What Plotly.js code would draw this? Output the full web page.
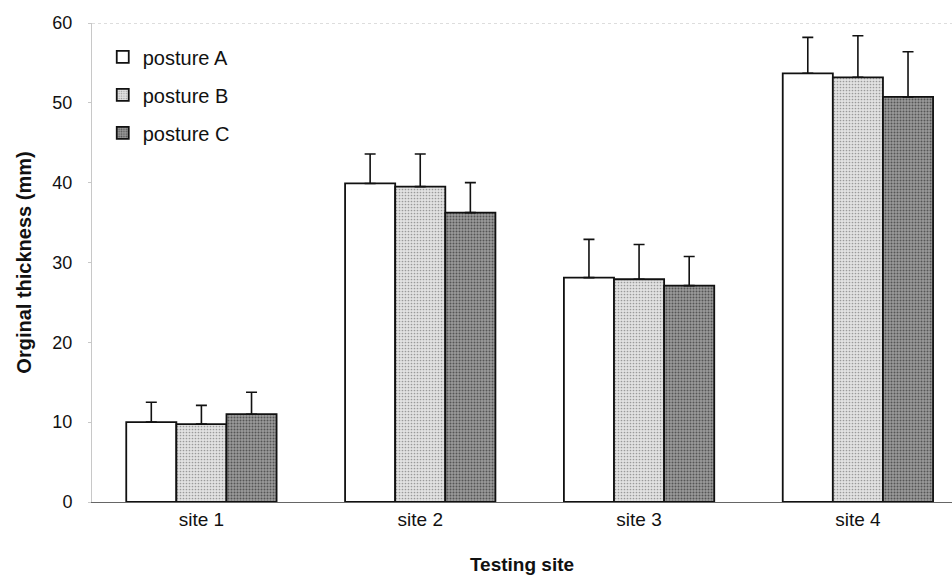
<!DOCTYPE html>
<html>
<head>
<meta charset="utf-8">
<script src="https://cdn.plot.ly/plotly-3.0.1.min.js"></script>
<style>html,body{margin:0;padding:0;background:#fff;}#chart{width:952px;height:579px;}</style>
</head>
<body>
<div id="chart"></div>
<script>
const sites = ["site 1", "site 2", "site 3", "site 4"];
const postureA = [10.0, 39.9, 28.1, 53.7];
const postureB = [9.75, 39.5, 27.9, 53.2];
const postureC = [11.0, 36.25, 27.1, 50.75];
const errA = [2.5, 3.7, 4.8, 4.5];
const errB = [2.35, 4.1, 4.35, 5.2];
const errC = [2.75, 3.75, 3.65, 5.65];
const seriesNames = ["posture A", "posture B", "posture C"];
const yTicks = [0, 10, 20, 30, 40, 50, 60];

const font = "Liberation Sans, Arial, sans-serif";
const zeros = sites.map(() => 0);

function mk(name, vals, err, marker, grp) {
  return {
    type: "bar", name: name, x: sites, y: vals, legendgroup: grp,
    marker: marker,
    error_y: {type: "data", array: err, arrayminus: zeros, symmetric: false,
      color: "#111", thickness: 1.6, width: 5.5}
  };
}

const traces = [
  mk(seriesNames[0], postureA, errA, {color: "#ffffff", line: {color: "#111", width: 1.8}}, "a"),
  mk(seriesNames[1], postureB, errB, {color: "#dedede", line: {color: "#111", width: 1.8},
     pattern: {shape: ".", bgcolor: "#e2e2e2", fgcolor: "#9a9a9a", size: 3, solidity: 0.25, fillmode: "replace"}}, "b"),
  mk(seriesNames[2], postureC, errC, {color: "#8c8c8c", line: {color: "#111", width: 1.8},
     pattern: {shape: ".", bgcolor: "#9a9a9a", fgcolor: "#555555", size: 3, solidity: 0.35, fillmode: "replace"}}, "c")
];

const layout = {
  width: 952, height: 579,
  margin: {l: 92, r: 0, t: 23, b: 77},
  paper_bgcolor: "#fff", plot_bgcolor: "#fff",
  font: {family: font, size: 18, color: "#111"},
  barmode: "group", bargap: 0.313, bargroupgap: 0,
  showlegend: true,
  legend: {x: 0.0125, y: 0.97, xanchor: "left", yanchor: "top", bgcolor: "rgba(255,255,255,0)",
    font: {family: font, size: 20, color: "#111"}, tracegroupgap: 9, itemwidth: 30},
  xaxis: {type: "category", range: [-0.5, 3.43], showline: true, linecolor: "#666", linewidth: 1,
    ticks: "", showgrid: false, zeroline: false, tickfont: {family: font, size: 19, color: "#111"},
    title: {text: "<b>Testing site</b>", font: {family: font, size: 19, color: "#111"}, standoff: 28}},
  yaxis: {range: [0, 60], tickvals: yTicks, ticktext: yTicks.map(String), showline: true,
    linecolor: "#c8c8c8", linewidth: 1, ticks: "outside", ticklen: 3, tickcolor: "#c8c8c8",
    showgrid: false, zeroline: false, ticklabelstandoff: 12,
    tickfont: {family: font, size: 18, color: "#111"},
    title: {text: "<b>Orginal thickness (mm)</b>", font: {family: font, size: 20, color: "#111"}, standoff: 15}},
  shapes: [{type: "line", xref: "paper", yref: "y", x0: 0, x1: 1, y0: 60, y1: 60,
    line: {color: "#bbbbbb", width: 1, dash: "dot"}}]
};

Plotly.newPlot("chart", traces, layout, {displayModeBar: false, staticPlot: true});
</script>
</body>
</html>
